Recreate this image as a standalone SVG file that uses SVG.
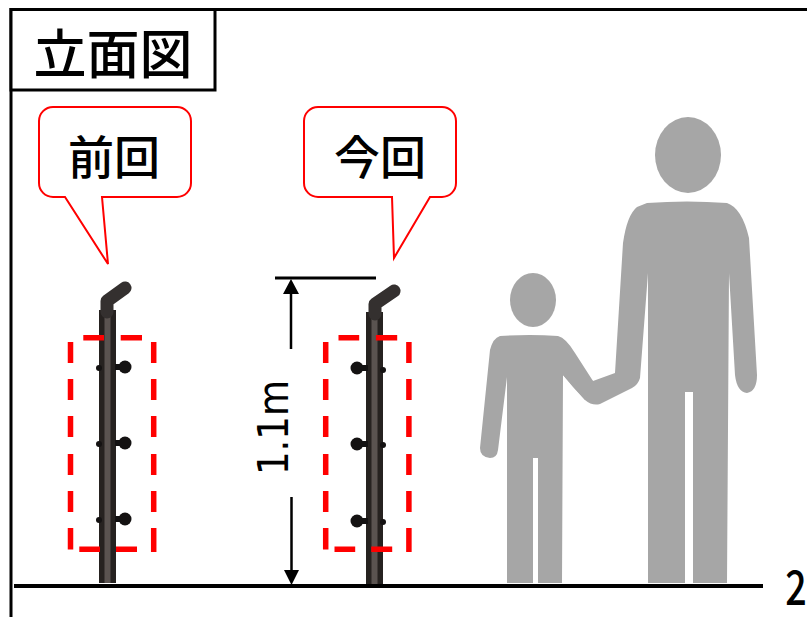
<svg xmlns="http://www.w3.org/2000/svg" width="807" height="617" viewBox="0 0 807 617">
<style>
.jp{font-family:"Noto Sans CJK JP","Noto Sans",sans-serif;fill:#000;text-anchor:middle;font-weight:500}
.callout{fill:#fff;stroke:#f00;stroke-width:2;stroke-linejoin:miter}
.dash{fill:none;stroke:#f00;stroke-width:5.5}
.person{fill:#a6a6a6}
.dark{fill:#141212}
.elbow{fill:none;stroke:#34302f;stroke-width:13;stroke-linecap:round;stroke-linejoin:round}
.line{stroke:#000;fill:none}
</style>
<defs>
<g id="rail-mid">
<rect x="-8.500" y="0" width="17" height="273" fill="#262220"/>
<rect x="-3" y="0" width="6" height="273" fill="#5a5350"/>
</g>
<path id="dashes" d="M70.500 342V363M70.500 379V400M70.500 416V437M70.500 454V475M70.500 491V512M70.500 528V549.500M83.300 337.700H104M120.700 337.700H142M153.700 342V363M153.700 379V400M153.700 416V437M153.700 454V475M153.700 491V512M153.700 528V552M79.300 549.300H100M116 549.300H137" class="dash"/>
</defs>
<rect width="807" height="617" fill="#fff"/>
<g id="frame">
<path d="M11 617V9.500H807" class="line" stroke-width="3"/>
</g>
<g id="title">
<rect x="11" y="9.500" width="204" height="80.500" fill="#fff" stroke="#000" stroke-width="3"/>
<text x="113" y="74" class="jp" font-size="53">立面図</text>
</g>
<g id="person-adult">
<ellipse cx="688" cy="155" rx="33" ry="38" class="person"/>
<path class="person" d="M647 203Q687 200 727 203Q742 208 749 238L757 375Q757 391 747 393Q737 392 735 375L729 273L727 583H693V392H685V583H648V273L640 378Q638 385 632 388L600 404Q592 406 585 400L573 387L563 375V360L593 381L615 373L623 243Q627 215 637 207Z"/>
</g>
<g id="person-child">
<ellipse cx="533" cy="300" rx="23" ry="27" class="person"/>
<path class="person" d="M500 336Q530 334 558 336Q566 338 575 353L593 381L585 400L563 375L562 583H538V458H533V583H507V377L498 450Q497 458 490 458Q480 457 480 448L490 350Q493 338 500 336Z"/>
</g>
<g id="post-previous">
<use href="#rail-mid" x="107.500" y="310"/>
<path class="elbow" d="M125 288L107 301V312"/>
<g class="dark">
<circle cx="125" cy="367" r="6.500"/><rect x="115" y="364" width="8" height="6"/><circle cx="99" cy="368" r="3"/>
<circle cx="125" cy="443" r="6.500"/><rect x="115" y="440" width="8" height="6"/><circle cx="99" cy="444" r="3"/>
<circle cx="125" cy="519" r="6.500"/><rect x="115" y="516" width="8" height="6"/><circle cx="99" cy="520" r="3"/>
</g>
<use href="#dashes"/>
</g>
<g id="post-current">
<use href="#rail-mid" x="374.500" y="312"/>
<path class="elbow" d="M394 291L375 304V314"/>
<g class="dark">
<circle cx="357" cy="368" r="6.500"/><rect x="360" y="365" width="8" height="6"/><circle cx="383" cy="370" r="3"/>
<circle cx="357" cy="444" r="6.500"/><rect x="360" y="441" width="8" height="6"/><circle cx="383" cy="445" r="3"/>
<circle cx="357" cy="521" r="6.500"/><rect x="360" y="518" width="8" height="6"/><circle cx="383" cy="522" r="3"/>
</g>
<use href="#dashes" x="255.200"/>
</g>
<g id="callout-previous">
<path class="callout" d="M53 107H177A14 14 0 0 1 191 121V183A14 14 0 0 1 177 197H102L108 264L65 197H53A14 14 0 0 1 39 183V121A14 14 0 0 1 53 107Z"/>
<text x="114" y="174" class="jp" font-size="46">前回</text>
</g>
<g id="callout-current">
<path class="callout" d="M318 107H442A14 14 0 0 1 456 121V183A14 14 0 0 1 442 197H430L394 258L392 197H318A14 14 0 0 1 304 183V121A14 14 0 0 1 318 107Z"/>
<text x="380" y="174" class="jp" font-size="46">今回</text>
</g>
<g id="connectors">
<path class="line" stroke-width="3" d="M275 278H376"/>
<path class="line" stroke-width="2.500" d="M291 290V349M291.500 497V572"/>
<path d="M291 279L299 294H283Z" fill="#000"/>
<path d="M291.500 585L284 570H299Z" fill="#000"/>
<path class="line" stroke-width="4" d="M14 586H763"/>
</g>
<g id="labels">
<text transform="translate(288 475) rotate(-90)" font-family="'DejaVu Sans',sans-serif" font-size="43" textLength="95" lengthAdjust="spacingAndGlyphs">1.1m</text>
<text transform="translate(796 605) scale(0.8 1)" x="0" y="0" class="jp" font-size="47">2</text>
</g>
</svg>
